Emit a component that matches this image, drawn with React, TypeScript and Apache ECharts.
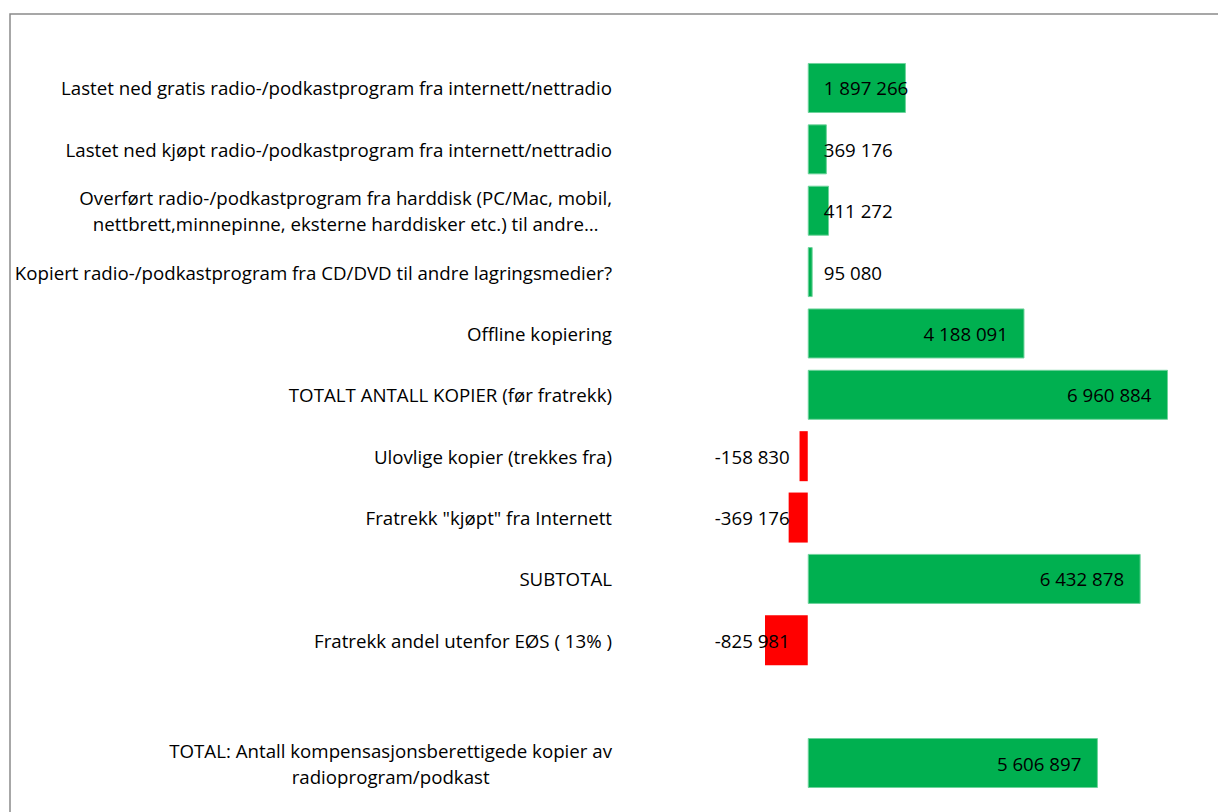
import React, { useEffect, useRef } from "react";
import * as echarts from "echarts";

const categories: string[] = [
  "Lastet ned gratis radio-/podkastprogram fra internett/nettradio",
  "Lastet ned kjøpt radio-/podkastprogram fra internett/nettradio",
  "Overført radio-/podkastprogram fra harddisk (PC/Mac, mobil,\nnettbrett,minnepinne, eksterne harddisker etc.) til andre…",
  "Kopiert radio-/podkastprogram fra CD/DVD til andre lagringsmedier?",
  "Offline kopiering",
  "TOTALT ANTALL KOPIER (før fratrekk)",
  "Ulovlige kopier (trekkes fra)",
  "Fratrekk \"kjøpt\" fra Internett",
  "SUBTOTAL",
  "Fratrekk andel utenfor EØS ( 13% )",
  "",
  "TOTAL: Antall kompensasjonsberettigede kopier av\nradioprogram/podkast",
];

const values: (number | null)[] = [
  1897266, 369176, 411272, 95080, 4188091, 6960884, -158830, -369176, 6432878, -825981, null, 5606897,
];

const xMin = -1000000;
const xMax = 7000000;

const FONT = "Open Sans";
const FS = 18.7;
const GREEN = "#00B050";
const RED = "#FF0000";
const BIG = 3000000;

function fmt(v: number): string {
  const s = Math.abs(Math.round(v)).toString().replace(/\B(?=(\d{3})+(?!\d))/g, " ");
  return (v < 0 ? "-" : "") + s;
}

export default function App() {
  const ref = useRef<HTMLDivElement>(null);
  useEffect(() => {
    if (!ref.current) return;
    const chart = echarts.init(ref.current, undefined, { renderer: "svg" });

    const barData = values.map((v) => {
      if (v === null) return { value: null };
      const big = v >= BIG;
      return {
        value: v,
        itemStyle: {
          color: v >= 0 ? GREEN : RED,
          borderColor: v >= 0 ? "#6fd39c" : RED,
          borderWidth: v >= 0 ? 1 : 0,
        },
        label: {
          show: big,
          position: "insideRight",
          distance: 16.5,
          color: "#000",
          fontFamily: FONT,
          fontSize: FS,
          formatter: () => fmt(v),
        },
      };
    });

    const labelData = values.map((v, i) => {
      if (v === null || v >= BIG) return { value: [0, i], label: { show: false } };
      return {
        value: [0, i],
        label: {
          show: true,
          position: v < 0 ? "left" : "right",
          distance: v < 0 ? 18 : 16,
          color: "#000",
          opacity: 1,
          fontFamily: FONT,
          fontSize: FS,
          formatter: () => fmt(v),
        },
      };
    });

    chart.setOption({
      animation: false,
      backgroundColor: "#ffffff",
      textStyle: { fontFamily: FONT },
      graphic: [
        {
          type: "rect",
          shape: { x: 10, y: 14, width: 1400, height: 1000 },
          style: { fill: "none", stroke: "#8a8a8a", lineWidth: 1.5 },
          silent: true,
        },
      ],
      grid: { left: 756, width: 414, top: 57.3, height: 736.4, containLabel: false },
      xAxis: {
        type: "value",
        min: xMin,
        max: xMax,
        show: false,
        splitLine: { show: false },
      },
      yAxis: {
        type: "category",
        data: categories,
        inverse: true,
        axisLine: { show: false, onZero: false },
        axisTick: { show: false },
        splitLine: { show: false },
        axisLabel: {
          margin: 144,
          align: "right",
          color: "#000",
          fontFamily: FONT,
          fontSize: FS,
          lineHeight: 26,
          formatter: (val: string) =>
            val
              .split("\n")
              .map((l) => `{c|${l}}`)
              .join("\n"),
          rich: {
            c: { align: "center", fontFamily: FONT, fontSize: FS, color: "#000", lineHeight: 26 },
          },
        },
      },
      series: [
        {
          type: "bar",
          data: barData,
          barCategoryGap: "18.5%",
          label: { color: "#000", fontFamily: FONT, fontSize: FS },
          z: 2,
        },
        {
          type: "scatter",
          data: labelData,
          symbolSize: 0,
          silent: true,
          itemStyle: { opacity: 1 },
          label: { color: "#000", opacity: 1, fontFamily: FONT, fontSize: FS },
          z: 3,
        },
      ],
    });
    return () => chart.dispose();
  }, []);
  return (
    <div
      ref={ref}
      style={{ position: "absolute", left: 0, top: 0, width: 1218, height: 812 }}
    />
  );
}
